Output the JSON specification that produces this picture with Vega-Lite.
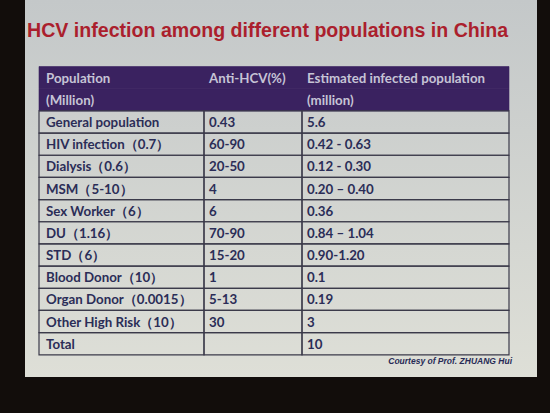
{
  "$schema": "https://vega.github.io/schema/vega-lite/v6.json",
  "width": 512,
  "height": 377,
  "autosize": {"type": "none"},
  "padding": {"left": 25, "top": 0, "right": 13, "bottom": 36},
  "background": "#120d0b",
  "config": {
    "view": {
      "stroke": null,
      "fill": {
        "gradient": "linear", "x1": 0, "y1": 0, "x2": 0, "y2": 1,
        "stops": [{"offset": 0, "color": "#c4c8c9"}, {"offset": 1, "color": "#dedfd7"}]
      }
    }
  },
  "datasets": {
    "title": [{"key": "T2", "text": "HCV infection among different populations in China"}],
    "foot": [{"key": "F", "text": "Courtesy of Prof. ZHUANG Hui"}],
    "table": [
      {"key": "H1", "part": "head", "pop": "Population", "anti": "Anti-HCV(%)", "est": "Estimated infected population"},
      {"key": "H2", "part": "head", "pop": "(Million)", "anti": "", "est": "(million)"},
      {"key": "R0", "part": "body", "pop": "General population", "anti": "0.43", "est": "5.6"},
      {"key": "R1", "part": "body", "pop": "HIV infection（0.7）", "anti": "60-90", "est": "0.42 - 0.63"},
      {"key": "R2", "part": "body", "pop": "Dialysis（0.6）", "anti": "20-50", "est": "0.12 - 0.30"},
      {"key": "R3", "part": "body", "pop": "MSM（5-10）", "anti": "4", "est": "0.20 – 0.40"},
      {"key": "R4", "part": "body", "pop": "Sex Worker（6）", "anti": "6", "est": "0.36"},
      {"key": "R5", "part": "body", "pop": "DU（1.16）", "anti": "70-90", "est": "0.84 – 1.04"},
      {"key": "R6", "part": "body", "pop": "STD（6）", "anti": "15-20", "est": "0.90-1.20"},
      {"key": "R7", "part": "body", "pop": "Blood Donor（10）", "anti": "1", "est": "0.1"},
      {"key": "R8", "part": "body", "pop": "Organ Donor（0.0015）", "anti": "5-13", "est": "0.19"},
      {"key": "R9", "part": "body", "pop": "Other High Risk（10）", "anti": "30", "est": "3"},
      {"key": "R10", "part": "body", "pop": "Total", "anti": "", "est": "10"}
    ]
  },
  "layer": [
    {
      "data": {"name": "table"},
      "transform": [{"filter": "datum.part === 'head'"}],
      "mark": {"type": "rect", "fill": "#3a2260", "stroke": "#3a2260", "strokeWidth": 0.6},
      "encoding": {
        "x": {"datum": 0, "type": "quantitative", "scale": {"domain": [0, 1, 2, 3], "range": [14, 179, 277, 484], "nice": false, "zero": false}, "axis": null},
        "x2": {"datum": 3},
        "y": {"field": "key", "type": "nominal", "scale": {"domain": ["T1","T2","T3","H1","H2","R0","R1","R2","R3","R4","R5","R6","R7","R8","R9","R10","F"], "paddingInner": 0, "paddingOuter": 0}, "axis": null}
      }
    },
    {
      "data": {"name": "table"},
      "transform": [{"filter": "datum.part === 'body'"}],
      "mark": {"type": "rect", "fill": "#ffffff", "fillOpacity": 0, "stroke": "#3b3a4a", "strokeWidth": 1.2},
      "encoding": {
        "x": {"datum": 0, "type": "quantitative", "scale": {"domain": [0, 1, 2, 3], "range": [14, 179, 277, 484], "nice": false, "zero": false}, "axis": null},
        "x2": {"datum": 1},
        "y": {"field": "key", "type": "nominal", "scale": {"domain": ["T1","T2","T3","H1","H2","R0","R1","R2","R3","R4","R5","R6","R7","R8","R9","R10","F"], "paddingInner": 0, "paddingOuter": 0}, "axis": null}
      }
    },
    {
      "data": {"name": "table"},
      "transform": [{"filter": "datum.part === 'body'"}],
      "mark": {"type": "rect", "fill": "#ffffff", "fillOpacity": 0, "stroke": "#3b3a4a", "strokeWidth": 1.2},
      "encoding": {
        "x": {"datum": 1, "type": "quantitative", "scale": {"domain": [0, 1, 2, 3], "range": [14, 179, 277, 484], "nice": false, "zero": false}, "axis": null},
        "x2": {"datum": 2},
        "y": {"field": "key", "type": "nominal", "scale": {"domain": ["T1","T2","T3","H1","H2","R0","R1","R2","R3","R4","R5","R6","R7","R8","R9","R10","F"], "paddingInner": 0, "paddingOuter": 0}, "axis": null}
      }
    },
    {
      "data": {"name": "table"},
      "transform": [{"filter": "datum.part === 'body'"}],
      "mark": {"type": "rect", "fill": "#ffffff", "fillOpacity": 0, "stroke": "#3b3a4a", "strokeWidth": 1.2},
      "encoding": {
        "x": {"datum": 2, "type": "quantitative", "scale": {"domain": [0, 1, 2, 3], "range": [14, 179, 277, 484], "nice": false, "zero": false}, "axis": null},
        "x2": {"datum": 3},
        "y": {"field": "key", "type": "nominal", "scale": {"domain": ["T1","T2","T3","H1","H2","R0","R1","R2","R3","R4","R5","R6","R7","R8","R9","R10","F"], "paddingInner": 0, "paddingOuter": 0}, "axis": null}
      }
    },
    {
      "data": {"name": "table"},
      "mark": {"type": "text", "align": "left", "baseline": "middle", "dx": 7, "dy": 1, "font": "Lato", "fontWeight": "bold", "fontSize": 13.3},
      "encoding": {
        "x": {"datum": 0, "type": "quantitative", "scale": {"domain": [0, 1, 2, 3], "range": [14, 179, 277, 484], "nice": false, "zero": false}, "axis": null},
        "y": {"field": "key", "type": "nominal", "scale": {"domain": ["T1","T2","T3","H1","H2","R0","R1","R2","R3","R4","R5","R6","R7","R8","R9","R10","F"], "paddingInner": 0, "paddingOuter": 0}, "axis": null},
        "text": {"field": "pop"},
        "color": {"field": "part", "type": "nominal", "scale": {"domain": ["head", "body"], "range": ["#c6c4d6", "#2b2d57"]}, "legend": null}
      }
    },
    {
      "data": {"name": "table"},
      "mark": {"type": "text", "align": "left", "baseline": "middle", "dx": 5, "dy": 1, "font": "Lato", "fontWeight": "bold", "fontSize": 13.3},
      "encoding": {
        "x": {"datum": 1, "type": "quantitative", "scale": {"domain": [0, 1, 2, 3], "range": [14, 179, 277, 484], "nice": false, "zero": false}, "axis": null},
        "y": {"field": "key", "type": "nominal", "scale": {"domain": ["T1","T2","T3","H1","H2","R0","R1","R2","R3","R4","R5","R6","R7","R8","R9","R10","F"], "paddingInner": 0, "paddingOuter": 0}, "axis": null},
        "text": {"field": "anti"},
        "color": {"field": "part", "type": "nominal", "scale": {"domain": ["head", "body"], "range": ["#c6c4d6", "#2b2d57"]}, "legend": null}
      }
    },
    {
      "data": {"name": "table"},
      "mark": {"type": "text", "align": "left", "baseline": "middle", "dx": 5, "dy": 1, "font": "Lato", "fontWeight": "bold", "fontSize": 13.3},
      "encoding": {
        "x": {"datum": 2, "type": "quantitative", "scale": {"domain": [0, 1, 2, 3], "range": [14, 179, 277, 484], "nice": false, "zero": false}, "axis": null},
        "y": {"field": "key", "type": "nominal", "scale": {"domain": ["T1","T2","T3","H1","H2","R0","R1","R2","R3","R4","R5","R6","R7","R8","R9","R10","F"], "paddingInner": 0, "paddingOuter": 0}, "axis": null},
        "text": {"field": "est"},
        "color": {"field": "part", "type": "nominal", "scale": {"domain": ["head", "body"], "range": ["#c6c4d6", "#2b2d57"]}, "legend": null}
      }
    },
    {
      "data": {"name": "title"},
      "mark": {"type": "text", "align": "left", "baseline": "middle", "dx": -12, "dy": -2, "font": "Liberation Sans", "fontWeight": "bold", "fontSize": 19.6, "color": "#ab1f2d"},
      "encoding": {
        "x": {"datum": 0, "type": "quantitative", "scale": {"domain": [0, 1, 2, 3], "range": [14, 179, 277, 484], "nice": false, "zero": false}, "axis": null},
        "y": {"field": "key", "type": "nominal", "scale": {"domain": ["T1","T2","T3","H1","H2","R0","R1","R2","R3","R4","R5","R6","R7","R8","R9","R10","F"], "paddingInner": 0, "paddingOuter": 0}, "axis": null},
        "text": {"field": "text"}
      }
    },
    {
      "data": {"name": "foot"},
      "mark": {"type": "text", "align": "right", "baseline": "middle", "dx": 3, "dy": -5, "font": "Liberation Sans", "fontWeight": "bold", "fontStyle": "italic", "fontSize": 8.5, "color": "#272a55"},
      "encoding": {
        "x": {"datum": 3, "type": "quantitative", "scale": {"domain": [0, 1, 2, 3], "range": [14, 179, 277, 484], "nice": false, "zero": false}, "axis": null},
        "y": {"field": "key", "type": "nominal", "scale": {"domain": ["T1","T2","T3","H1","H2","R0","R1","R2","R3","R4","R5","R6","R7","R8","R9","R10","F"], "paddingInner": 0, "paddingOuter": 0}, "axis": null},
        "text": {"field": "text"}
      }
    }
  ]
}
